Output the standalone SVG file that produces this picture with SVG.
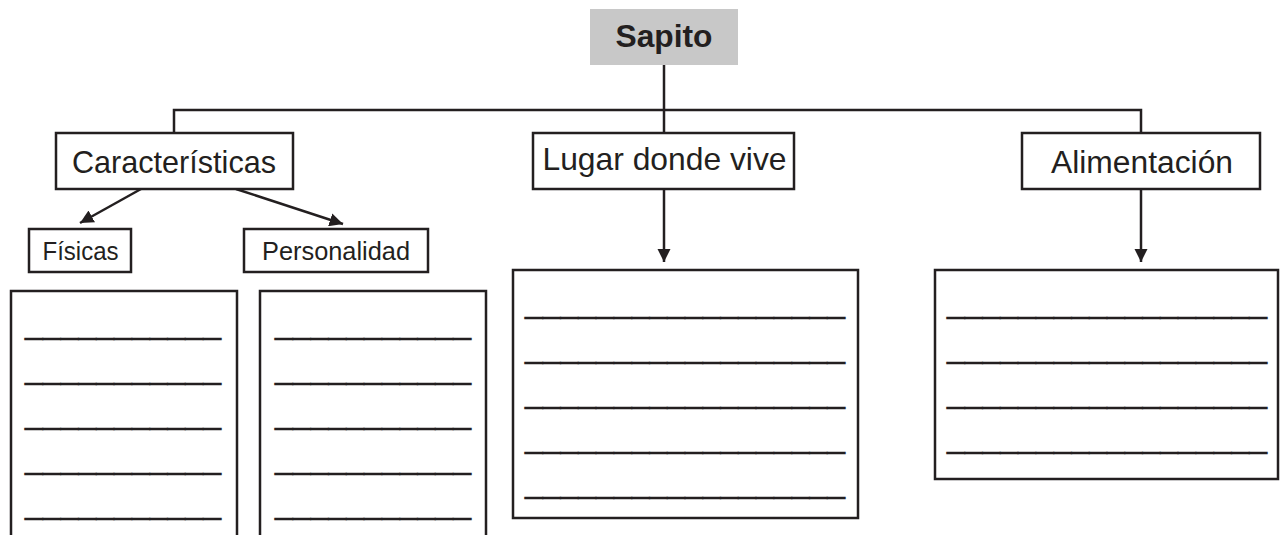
<svg xmlns="http://www.w3.org/2000/svg" width="1280" height="535" viewBox="0 0 1280 535">
<style>
.box{fill:#fff;stroke:#231f20;stroke-width:2.5}
.con{fill:none;stroke:#231f20;stroke-width:2.5}
.t{font-family:"Liberation Sans",Arial,sans-serif;fill:#231f20;text-anchor:middle}
.u{font-family:"Liberation Sans",Arial,sans-serif;fill:#231f20;stroke:#231f20;stroke-width:0.5;font-size:32px}
</style>
<defs>
<marker id="ah" viewBox="0 0 10 10" refX="10" refY="5" markerWidth="5.4" markerHeight="5.4" orient="auto" markerUnits="strokeWidth">
<path d="M0,0 L10,5 L0,10 Z" fill="#231f20"/>
</marker>
</defs>
<rect width="1280" height="535" fill="#fff"/>
<g id="connectors">
<path class="con" d="M664,65 V133"/>
<path class="con" d="M174,133 V110 H1141 V133"/>
<path class="con" d="M664,189 V262" marker-end="url(#ah)"/>
<path class="con" d="M1141,189 V262" marker-end="url(#ah)"/>
<path class="con" d="M141,189 L80,223" marker-end="url(#ah)"/>
<path class="con" d="M236,189 L343,224" marker-end="url(#ah)"/>
</g>
<g id="sapito">
<rect x="590" y="9" width="148" height="56" fill="#c8c8c8"/>
<text class="t" x="664" y="47" font-size="32" font-weight="bold" textLength="97" lengthAdjust="spacingAndGlyphs">Sapito</text>
</g>
<g id="caracteristicas">
<rect class="box" x="56" y="133" width="237" height="56"/>
<text class="t" x="174" y="173" font-size="30.5" textLength="204" lengthAdjust="spacingAndGlyphs">Características</text>
</g>
<g id="lugar">
<rect class="box" x="533" y="133" width="261" height="56"/>
<text class="t" x="664.5" y="169.5" font-size="32" textLength="244" lengthAdjust="spacingAndGlyphs">Lugar donde vive</text>
</g>
<g id="alimentacion">
<rect class="box" x="1022" y="133" width="238" height="56"/>
<text class="t" x="1142" y="173" font-size="31" textLength="182" lengthAdjust="spacingAndGlyphs">Alimentación</text>
</g>
<g id="fisicas">
<rect class="box" x="29" y="229" width="102" height="43"/>
<text class="t" x="80.5" y="260" font-size="25.5" textLength="76" lengthAdjust="spacingAndGlyphs">Físicas</text>
</g>
<g id="personalidad">
<rect class="box" x="244" y="229" width="184" height="43"/>
<text class="t" x="336" y="260" font-size="25.5" textLength="148" lengthAdjust="spacingAndGlyphs">Personalidad</text>
</g>
<g id="fisicas-lines">
<path class="con" d="M11,540 V291 H237 V540"/>
<text class="u" x="25" y="334" textLength="196" lengthAdjust="spacingAndGlyphs">___________</text>
<text class="u" x="25" y="379" textLength="196" lengthAdjust="spacingAndGlyphs">___________</text>
<text class="u" x="25" y="424" textLength="196" lengthAdjust="spacingAndGlyphs">___________</text>
<text class="u" x="25" y="469" textLength="196" lengthAdjust="spacingAndGlyphs">___________</text>
<text class="u" x="25" y="514" textLength="196" lengthAdjust="spacingAndGlyphs">___________</text>
</g>
<g id="personalidad-lines">
<path class="con" d="M260,540 V291 H486 V540"/>
<text class="u" x="275" y="334" textLength="196" lengthAdjust="spacingAndGlyphs">___________</text>
<text class="u" x="275" y="379" textLength="196" lengthAdjust="spacingAndGlyphs">___________</text>
<text class="u" x="275" y="424" textLength="196" lengthAdjust="spacingAndGlyphs">___________</text>
<text class="u" x="275" y="469" textLength="196" lengthAdjust="spacingAndGlyphs">___________</text>
<text class="u" x="275" y="514" textLength="196" lengthAdjust="spacingAndGlyphs">___________</text>
</g>
<g id="lugar-lines">
<rect class="box" x="513" y="270" width="345" height="248"/>
<text class="u" x="525" y="313" textLength="320" lengthAdjust="spacingAndGlyphs">__________________</text>
<text class="u" x="525" y="358" textLength="320" lengthAdjust="spacingAndGlyphs">__________________</text>
<text class="u" x="525" y="403" textLength="320" lengthAdjust="spacingAndGlyphs">__________________</text>
<text class="u" x="525" y="448" textLength="320" lengthAdjust="spacingAndGlyphs">__________________</text>
<text class="u" x="525" y="493" textLength="320" lengthAdjust="spacingAndGlyphs">__________________</text>
</g>
<g id="alimentacion-lines">
<rect class="box" x="935" y="270" width="343" height="209"/>
<text class="u" x="947" y="313" textLength="320" lengthAdjust="spacingAndGlyphs">__________________</text>
<text class="u" x="947" y="358" textLength="320" lengthAdjust="spacingAndGlyphs">__________________</text>
<text class="u" x="947" y="403" textLength="320" lengthAdjust="spacingAndGlyphs">__________________</text>
<text class="u" x="947" y="448" textLength="320" lengthAdjust="spacingAndGlyphs">__________________</text>
</g>
</svg>
